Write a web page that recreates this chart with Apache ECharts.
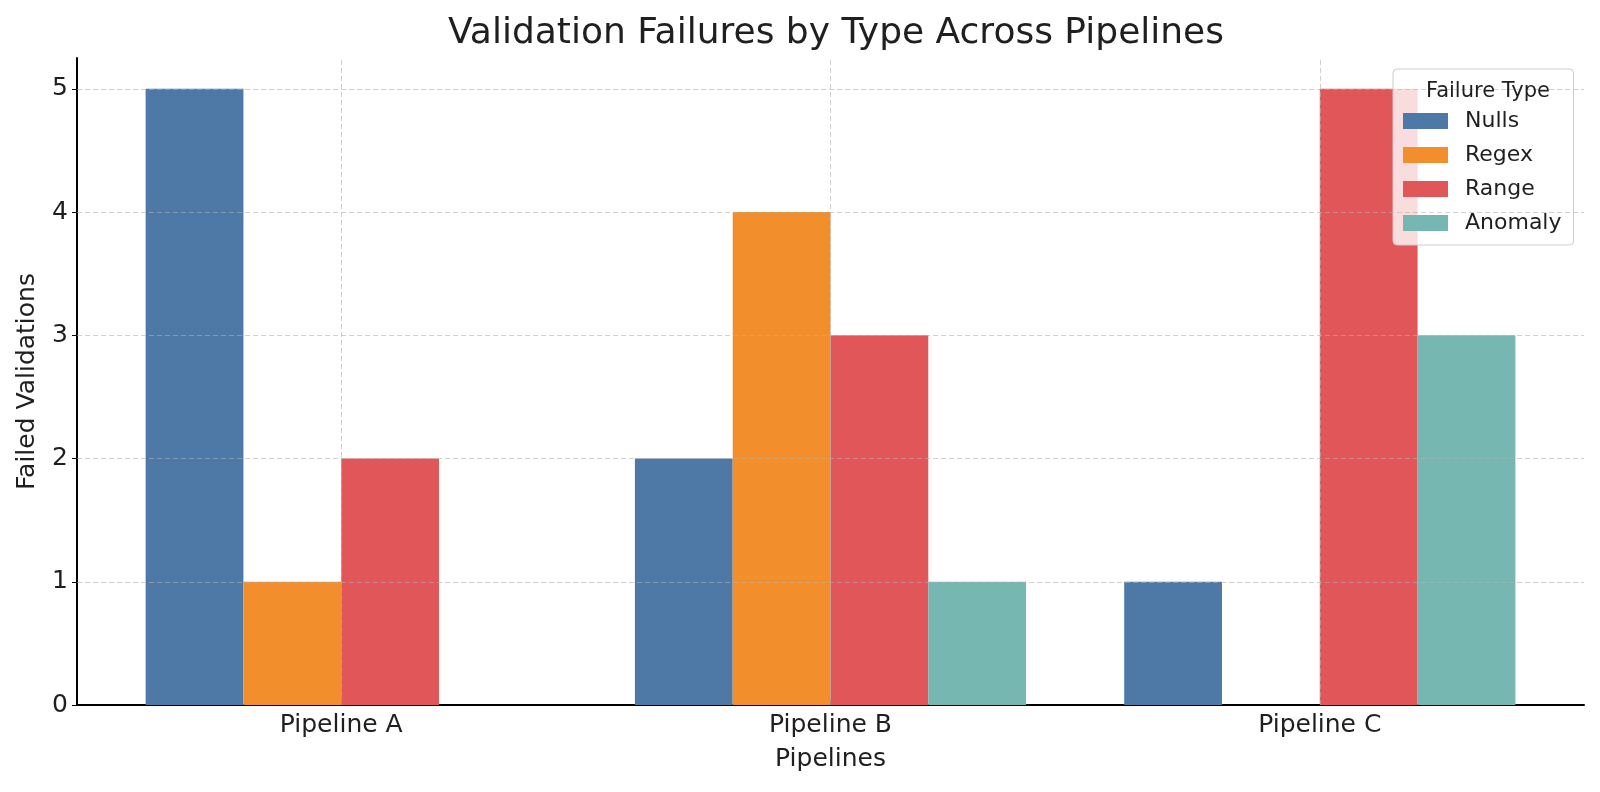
<!DOCTYPE html>
<html lang="en">
<head>
    <meta charset="utf-8" />
    <title>Validation Failures by Type Across Pipelines</title>
    <script src="https://cdn.jsdelivr.net/npm/echarts@6/dist/echarts.min.js"></script>
    <style>
        html, body { margin: 0; padding: 0; background: #fff; }
        #main { width: 1600px; height: 792px; }
    </style>
</head>
<body>
    <div id="main"></div>
    <script type="text/javascript">
        // data
        var pipelines = ['Pipeline A', 'Pipeline B', 'Pipeline C'];
        var failureTypes = ['Nulls', 'Regex', 'Range', 'Anomaly'];
        var nulls = [5, 2, 1];
        var regex = [1, 4, 0];
        var range = [2, 3, 5];
        var anomaly = [0, 1, 3];
        var yTicks = [0, 1, 2, 3, 4, 5];

        var colors = ['#4E79A7', '#F28E2B', '#E15759', '#76B7B2'];
        var font = 'DejaVu Sans';
        var textColor = '#1f1f1f';

        var valuesByType = [nulls, regex, range, anomaly];
        var catIndex = pipelines.map(function (p, i) { return i; });

        // grid lines drawn over the bars, like the original
        var gridLines = [];
        catIndex.forEach(function (i) { gridLines.push({ xAxis: i }); });
        yTicks.slice(1).forEach(function (v) { gridLines.push({ yAxis: v }); });

        var series = failureTypes.map(function (name, k) {
            return {
                name: name,
                type: 'bar',
                barWidth: 97.8,
                barGap: '0%',
                itemStyle: { color: colors[k] },
                emphasis: { disabled: true },
                data: valuesByType[k].map(function (v, i) { return [catIndex[i], v]; })
            };
        });
        // empty helper series that only carries the grid lines (bar markers get shifted)
        series.push({
            name: 'grid',
            type: 'line',
            z: 5,
            data: [],
            silent: true,
            markLine: {
                silent: true,
                symbol: ['none', 'none'],
                label: { show: false },
                emphasis: { disabled: true },
                animation: false,
                lineStyle: { color: '#b0b0b0', opacity: 0.6, width: 1, type: [5, 3] },
                data: gridLines
            }
        });

        var myChart = echarts.init(document.getElementById('main'));
        var option = {
            animation: false,
            backgroundColor: '#ffffff',
            textStyle: { fontFamily: font, color: textColor },
            title: [
                {
                    text: 'Validation Failures by Type Across Pipelines',
                    left: 831,
                    textAlign: 'center',
                    top: 11,
                    textStyle: { fontFamily: font, fontSize: 36, fontWeight: 'normal', color: textColor }
                },
                {
                    text: 'Failure Type',
                    left: 1483,
                    textAlign: 'center',
                    top: 76,
                    z: 10,
                    textStyle: { fontFamily: font, fontSize: 21, fontWeight: 'normal', color: textColor }
                }
            ],
            legend: {
                orient: 'vertical',
                left: 1393,
                top: 69,
                padding: [41, 12, 11, 10],
                itemGap: 12,
                itemWidth: 45,
                itemHeight: 16,
                icon: 'rect',
                backgroundColor: 'rgba(255,255,255,0.8)',
                borderColor: '#cccccc',
                borderWidth: 1,
                borderRadius: 4,
                selectedMode: false,
                textStyle: { fontFamily: font, fontSize: 22, color: textColor, padding: [0, 0, 0, 12] },
                data: failureTypes
            },
            grid: {
                left: 77,
                right: 16,
                top: 58,
                bottom: 87,
                containLabel: false
            },
            xAxis: {
                type: 'value',
                min: -0.54,
                max: 2.54,
                name: 'Pipelines',
                nameLocation: 'middle',
                nameGap: 42,
                nameTextStyle: { fontFamily: font, fontSize: 25, color: textColor },
                axisLine: { onZero: false, lineStyle: { color: '#000000', width: 2 } },
                axisTick: { show: true, inside: true, length: 5, customValues: catIndex, lineStyle: { color: '#000000' } },
                axisLabel: {
                    customValues: catIndex,
                    fontFamily: font,
                    fontSize: 25,
                    color: textColor,
                    margin: 8,
                    formatter: function (v) { return pipelines[Math.round(v)] || ''; }
                },
                splitLine: { show: false }
            },
            yAxis: {
                type: 'value',
                min: 0,
                max: 5.25,
                interval: 1,
                name: 'Failed Validations',
                nameLocation: 'middle',
                nameGap: 37,
                nameTextStyle: { fontFamily: font, fontSize: 25, color: textColor },
                axisLine: { show: true, onZero: false, lineStyle: { color: '#000000', width: 2 } },
                axisTick: { show: true, length: 5, customValues: yTicks, lineStyle: { color: '#000000' } },
                axisLabel: {
                    fontFamily: font,
                    fontSize: 25,
                    color: textColor,
                    margin: 9,
                    formatter: function (v) { return Number.isInteger(v) ? String(v) : ''; }
                },
                splitLine: { show: false }
            },
            series: series
        };
        myChart.setOption(option);

        window.onresize = function () {
            myChart.resize();
        };
    </script>
</body>
</html>
